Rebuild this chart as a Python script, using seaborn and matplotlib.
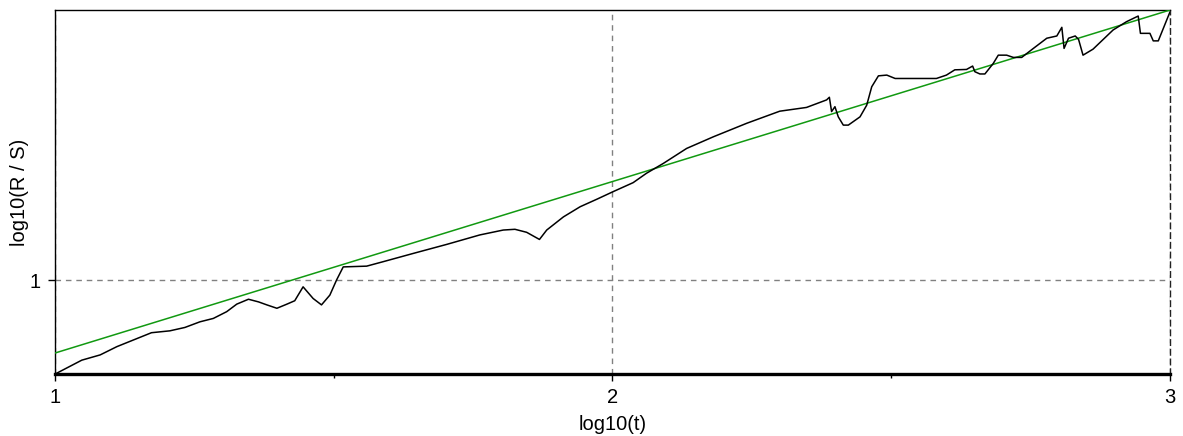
import numpy as np
import pandas as pd
import matplotlib
matplotlib.use("Agg")
import matplotlib.pyplot as plt
import seaborn as sns

# R/S curve
log_t = [1.000, 1.048, 1.081, 1.111, 1.173, 1.206, 1.233, 1.260, 1.284, 1.308,
         1.326, 1.347, 1.365, 1.380, 1.398, 1.416, 1.430, 1.445, 1.463, 1.478,
         1.493, 1.505, 1.517, 1.559, 1.589, 1.643, 1.703, 1.762, 1.804, 1.825,
         1.846, 1.869, 1.882, 1.912, 1.942, 1.972, 2.001, 2.037, 2.061, 2.091,
         2.133, 2.181, 2.241, 2.300, 2.348, 2.384, 2.389, 2.393, 2.399, 2.405,
         2.414, 2.423, 2.444, 2.456, 2.465, 2.477, 2.492, 2.507, 2.581, 2.599,
         2.614, 2.635, 2.646, 2.650, 2.659, 2.668, 2.683, 2.692, 2.707, 2.719,
         2.734, 2.755, 2.779, 2.797, 2.806, 2.810, 2.818, 2.830, 2.836, 2.844,
         2.862, 2.898, 2.922, 2.943, 2.947, 2.964, 2.970, 2.979, 3.000]
log_rs = [0.750, 0.787, 0.801, 0.823, 0.860, 0.865, 0.874, 0.889, 0.898, 0.916,
          0.936, 0.949, 0.942, 0.934, 0.925, 0.936, 0.945, 0.982, 0.951, 0.934,
          0.960, 1.000, 1.035, 1.037, 1.049, 1.071, 1.095, 1.120, 1.133, 1.135,
          1.127, 1.108, 1.133, 1.168, 1.195, 1.215, 1.235, 1.259, 1.284, 1.310,
          1.350, 1.381, 1.417, 1.449, 1.459, 1.479, 1.486, 1.448, 1.461, 1.434,
          1.412, 1.412, 1.434, 1.465, 1.514, 1.543, 1.545, 1.536, 1.536, 1.545,
          1.559, 1.560, 1.569, 1.554, 1.548, 1.548, 1.576, 1.598, 1.598, 1.592,
          1.592, 1.616, 1.643, 1.649, 1.672, 1.616, 1.643, 1.649, 1.640, 1.598,
          1.614, 1.665, 1.687, 1.702, 1.656, 1.656, 1.636, 1.636, 1.713]

# fitted line
fit_t = [1.0, 3.0]
fit_rs = [0.806, 1.718]

x_ticks = [1, 2, 3]
y_ticks = [1]

sns.set_style("white")
plt.rcParams["font.family"] = ["Liberation Sans", "DejaVu Sans"]
plt.rcParams["text.color"] = "black"
plt.rcParams["axes.labelcolor"] = "black"
plt.rcParams["xtick.color"] = "black"
plt.rcParams["ytick.color"] = "black"

fig = plt.figure(figsize=(11.83, 4.36), dpi=100)
ax = fig.add_axes([0.0465, 0.142, 0.9425, 0.835])

curve = pd.DataFrame({"t": log_t, "rs": log_rs})
fit = pd.DataFrame({"t": fit_t, "rs": fit_rs})

sns.lineplot(data=fit, x="t", y="rs", ax=ax, color="#119911", linewidth=1.1, zorder=3)
sns.lineplot(data=curve, x="t", y="rs", ax=ax, color="black", linewidth=1.1, zorder=4)

ax.set_xlim(1, 3)
ax.set_ylim(0.75, 1.718)
ax.set_xticks(x_ticks)
ax.set_yticks(y_ticks)
ax.set_xticks([1.5, 2.5], minor=True)
ax.set_xticklabels([str(v) for v in x_ticks])
ax.set_yticklabels([str(v) for v in y_ticks])

ax.grid(True, which="major", color="#808080", linestyle=(0, (4, 3.5)), linewidth=1)
ax.tick_params(axis="both", which="major", direction="out", length=5, width=1,
               color="black", labelcolor="black", labelsize=14.5, pad=5,
               bottom=True, left=True)
ax.tick_params(axis="x", which="minor", direction="out", length=3, width=1,
               color="black", bottom=True)

for side in ["top", "left"]:
    ax.spines[side].set_color("black")
    ax.spines[side].set_linewidth(1)
ax.spines["bottom"].set_color("black")
ax.spines["bottom"].set_linewidth(2.4)
ax.spines["right"].set_color("#222222")
ax.spines["right"].set_linewidth(1)
ax.spines["right"].set_linestyle((0, (4, 3)))

ax.set_xlabel("log10(t)", fontsize=14.5, labelpad=6, color="black")
ax.set_ylabel("log10(R / S)", fontsize=14.5, labelpad=1, color="black")

fig.savefig("out.png", dpi=100)
